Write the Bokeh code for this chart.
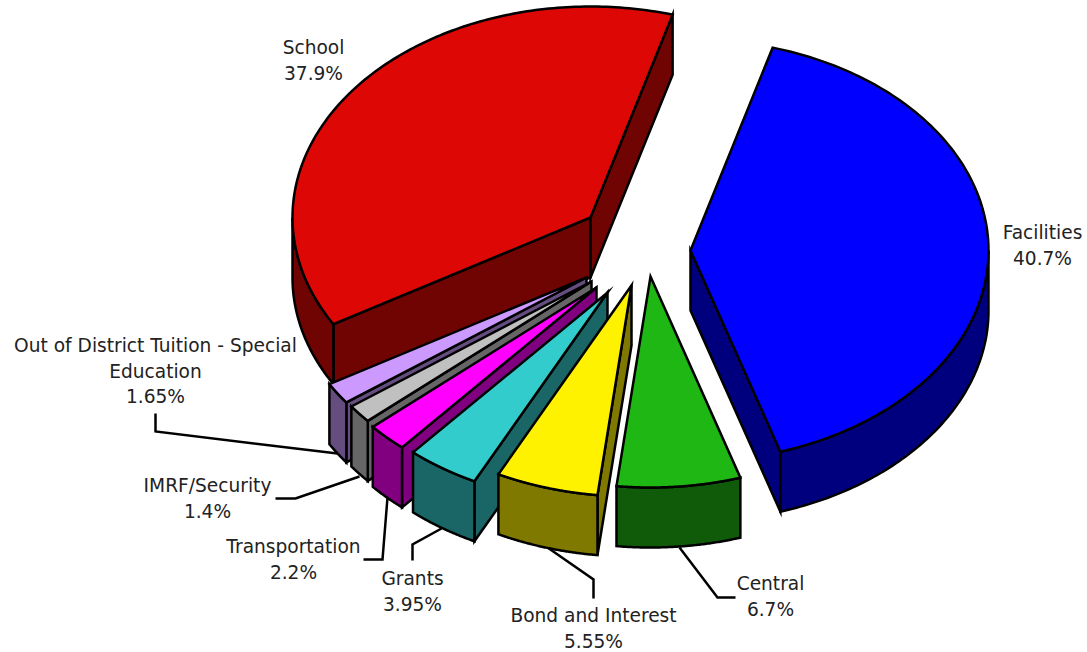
import numpy as np
from bokeh.core.properties import value
from bokeh.embed import file_html
from bokeh.models import ColumnDataSource, Range1d
from bokeh.plotting import figure
from bokeh.resources import INLINE

# Budget shares, clockwise from the start angle
categories = ["Facilities", "Central", "Bond and Interest", "Grants",
              "Transportation", "IMRF/Security",
              "Out of District Tuition - Special|Education", "School"]
shares = [40.7, 6.7, 5.55, 3.95, 2.2, 1.4, 1.65, 37.9]
share_labels = ["40.7%", "6.7%", "5.55%", "3.95%", "2.2%", "1.4%", "1.65%", "37.9%"]
top_colors = ["#0000FF", "#1FB714", "#FFF200", "#33CCCC",
              "#FF00FF", "#C0C0C0", "#CC99FF", "#DD0806"]
side_colors = ["#00007F", "#0F5B0A", "#7F7900", "#1A6666",
               "#800080", "#666666", "#664D80", "#6F0403"]

# Projection of the tilted disc
RADIUS_X = 298.0
RADIUS_Y = 211.0
DEPTH = 60.0
START_ANGLE = 16.0

# Where each pulled-out slice has its tip
tip_x = [690, 650, 631, 607, 596, 591, 586, 590]
tip_y = [250, 276, 285, 292, 287, 281, 277, 217]

# Far-to-near order, so nearer slices paint over farther ones
paint_order = [7, 0, 6, 5, 4, 3, 2, 1]

# Label anchors: centre x and the first line's middle y
label_x = [1042, 770, 593, 412, 293, 207, 155, 313]
label_y = [232, 583, 615, 578, 546, 485, 345, 47]
LINE_STEP = 25.7

# Leader lines from label to slice
leaders = [
    ([155, 155, 337], [413, 431, 453]),
    ([275, 295, 359], [498, 498, 476]),
    ([363, 382, 387], [559, 559, 497]),
    ([412, 412, 441], [560, 544, 528]),
    ([593, 593, 547], [598, 579, 547]),
    ([735, 717, 679], [597, 597, 547]),
]


def rim_point(cx, cy, degrees):
    rad = np.radians(degrees)
    return cx + RADIUS_X * np.sin(rad), cy - RADIUS_Y * np.cos(rad)


total = sum(shares)
edges = START_ANGLE + np.concatenate([[0], np.cumsum(shares)]) * 360.0 / total

xs, ys, fills = [], [], []


def add_polygon(px, py, fill):
    xs.append(list(px))
    ys.append(list(py))
    fills.append(fill)


def add_wall(cx, cy, angle, fill):
    ex, ey = rim_point(cx, cy, angle)
    add_polygon([cx, ex, ex, cx], [cy, ey, ey + DEPTH, cy + DEPTH], fill)


for i in paint_order:
    a0, a1 = edges[i], edges[i + 1]
    cx, cy = tip_x[i], tip_y[i]

    # A radial wall shows only when the face leans away from the viewer's side
    if 180.0 < a0 % 360.0 < 360.0:
        add_wall(cx, cy, a0, side_colors[i])
    if 0.0 < a1 % 360.0 < 180.0:
        add_wall(cx, cy, a1, side_colors[i])

    # Outer wall, only along the near half of the disc
    low, high = max(a0, 90.0), min(a1, 270.0)
    if low < high:
        rx, ry = rim_point(cx, cy, np.linspace(low, high, 90))
        add_polygon(np.concatenate([rx, rx[::-1]]),
                    np.concatenate([ry, ry[::-1] + DEPTH]), side_colors[i])

    # Top face
    tx, ty = rim_point(cx, cy, np.linspace(a0, a1, 160))
    add_polygon(np.concatenate([[cx], tx]), np.concatenate([[cy], ty]), top_colors[i])

p = figure(width=1087, height=652, output_backend="svg", toolbar_location=None,
           x_range=Range1d(0, 1087), y_range=Range1d(652, 0),
           min_border=0, outline_line_color=None, background_fill_color="white")
p.axis.visible = False
p.grid.visible = False

for lx, ly in leaders:
    p.line(lx, ly, line_color="black", line_width=2.5, line_join="miter")

p.patches("xs", "ys", fill_color="fills", line_color="black", line_width=2.5,
          line_join="miter",
          source=ColumnDataSource(dict(xs=xs, ys=ys, fills=fills)))

text_x, text_y, text_s = [], [], []
for name, share, x, y in zip(categories, share_labels, label_x, label_y):
    for row, line in enumerate(name.split("|") + [share]):
        text_x.append(x)
        text_y.append(y + row * LINE_STEP)
        text_s.append(line)

p.text(text_x, text_y, text=text_s, text_align="center", text_baseline="middle",
       text_font=value("DejaVu Sans"), text_font_size="18.6px", text_color="#222222")

open("out.html", "w").write(file_html(p, INLINE))
